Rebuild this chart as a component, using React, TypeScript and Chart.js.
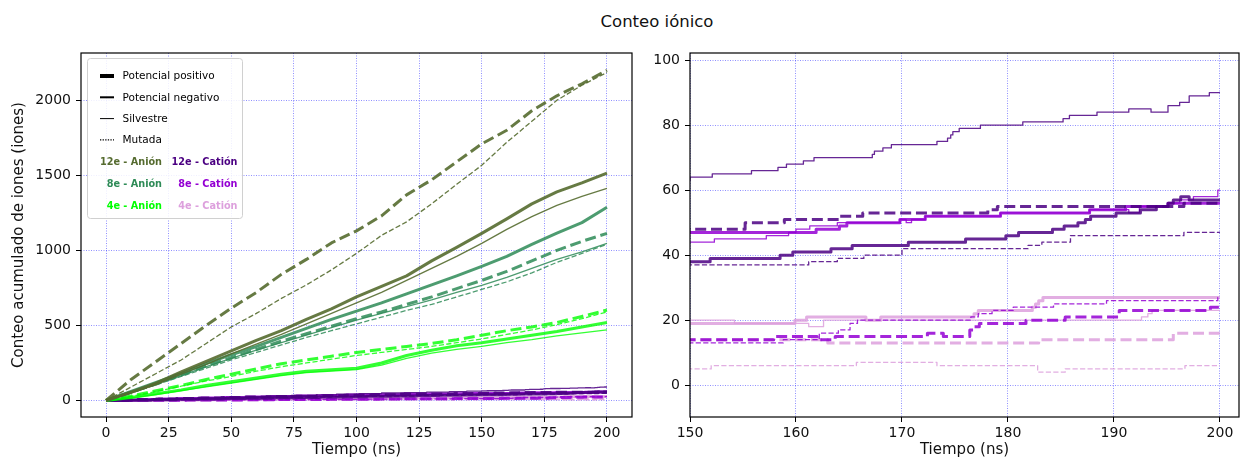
import React, { useEffect, useRef } from 'react';
import { Chart, registerables } from 'chart.js';

Chart.register(...registerables);

const FONT = '"DejaVu Sans", "Liberation Sans", sans-serif';

// ---- Anion cumulative counts, sampled every 10 ns ----
const TIME_ANION = [0, 10, 20, 30, 40, 50, 60, 70, 80, 90, 100, 110, 120, 130, 140, 150, 160, 170, 180, 190, 200];

const A12_POS_WT = [0, 55, 115, 190, 260, 330, 400, 465, 540, 610, 690, 760, 830, 930, 1020, 1113, 1210, 1310, 1390, 1450, 1515];
const A12_POS_MUT = [0, 140, 260, 380, 500, 615, 720, 840, 940, 1050, 1130, 1230, 1370, 1470, 1590, 1710, 1800, 1930, 2030, 2110, 2200];
const A12_NEG_WT = [0, 50, 105, 175, 240, 310, 375, 440, 510, 580, 650, 720, 800, 880, 960, 1047, 1140, 1225, 1300, 1360, 1413];
const A12_NEG_MUT = [0, 90, 180, 270, 380, 490, 580, 680, 770, 870, 980, 1100, 1190, 1310, 1440, 1567, 1720, 1860, 2000, 2100, 2185];

const A8_POS_WT = [0, 60, 120, 180, 245, 305, 360, 420, 480, 540, 595, 650, 710, 770, 830, 893, 960, 1040, 1115, 1185, 1287];
const A8_POS_MUT = [0, 55, 110, 170, 230, 285, 340, 395, 445, 495, 545, 590, 640, 690, 745, 800, 860, 930, 1000, 1060, 1113];
const A8_NEG_WT = [0, 55, 110, 165, 225, 280, 335, 385, 435, 485, 535, 580, 625, 670, 720, 767, 820, 880, 940, 990, 1047];
const A8_NEG_MUT = [0, 50, 105, 160, 215, 270, 320, 370, 420, 465, 510, 555, 600, 640, 690, 740, 790, 850, 920, 980, 1040];

const A4_POS_WT = [0, 20, 45, 70, 100, 125, 150, 175, 195, 205, 215, 250, 300, 335, 365, 385, 410, 435, 460, 490, 520];
const A4_POS_MUT = [0, 30, 65, 100, 140, 175, 210, 245, 270, 295, 320, 340, 360, 380, 405, 435, 465, 490, 520, 560, 603];
const A4_NEG_WT = [0, 18, 40, 65, 90, 115, 140, 165, 185, 195, 205, 235, 280, 315, 340, 360, 385, 405, 430, 450, 470];
const A4_NEG_MUT = [0, 28, 60, 95, 130, 160, 195, 225, 250, 275, 300, 320, 340, 360, 385, 410, 440, 470, 505, 545, 590];

// ---- Cation cumulative counts: [time (ns), count] at each change ----
const C12_NEG_WT: [number, number][] = [[0, 0], [6, 2], [14, 6], [22, 10], [31, 14], [40, 18], [48, 22], [57, 26], [66, 30], [75, 34], [84, 38], [92, 42], [101, 46], [110, 50], [119, 53], [128, 56], [137, 59], [144, 62], [148, 63], [150, 64], [152.1, 65], [155.8, 66], [158.3, 67], [159.1, 68], [160.7, 69], [161.7, 70], [167.2, 71], [167.4, 72], [168.2, 73], [169.0, 74], [173.3, 75], [174.3, 76], [174.6, 77], [174.8, 78], [175.4, 79], [177.4, 80], [181.4, 81], [185.2, 82], [185.8, 83], [188.4, 84], [191.4, 85], [193.5, 84], [195.1, 86], [196.2, 87], [197.1, 89], [199.0, 90], [200, 90]];
const C12_POS_WT: [number, number][] = [[0, 0], [9, 2], [18, 5], [28, 8], [37, 10], [47, 13], [56, 15], [66, 18], [76, 20], [85, 23], [95, 25], [104, 28], [114, 30], [124, 33], [133, 35], [142, 37], [148, 38], [151.9, 39], [158.5, 40], [159.7, 41], [163.3, 42], [165.3, 43], [170.6, 44], [176.0, 45], [179.8, 46], [181.0, 47], [184.2, 48], [185.3, 49], [186.6, 50], [187.3, 51], [187.8, 52], [190.2, 53], [192.5, 54], [194.0, 55], [195.1, 56], [195.6, 57], [196.3, 58], [197.1, 57], [200, 57]];
const C12_POS_MUT: [number, number][] = [[0, 0], [5, 3], [12, 6], [20, 10], [28, 13], [37, 17], [46, 20], [55, 23], [64, 26], [74, 29], [84, 32], [95, 35], [106, 38], [117, 41], [128, 44], [139, 46], [146, 47], [149, 48], [155.2, 50], [158.9, 51], [164.1, 52], [166.3, 53], [178.1, 54], [179.0, 55], [196.6, 56], [200, 56]];
const C12_NEG_MUT: [number, number][] = [[0, 0], [7, 2], [16, 5], [26, 8], [36, 11], [46, 14], [57, 17], [68, 20], [79, 23], [90, 26], [101, 28], [112, 30], [123, 32], [134, 34], [143, 36], [149, 37], [161.2, 38], [163.9, 39], [166.4, 40], [170.0, 42], [181.9, 43], [183.2, 44], [185.9, 46], [196.6, 47], [200, 47]];

const C8_POS_WT: [number, number][] = [[0, 0], [6, 3], [13, 6], [21, 10], [29, 13], [38, 17], [47, 20], [56, 24], [66, 27], [76, 30], [86, 33], [96, 36], [107, 39], [118, 41], [129, 43], [140, 45], [146, 46], [149, 47], [161.9, 48], [164.1, 49], [164.8, 50], [169.8, 51], [172.2, 52], [179.3, 53], [187.7, 54], [191.1, 55], [195.1, 56], [200, 56]];
const C8_NEG_WT: [number, number][] = [[0, 0], [5, 2], [12, 5], [20, 8], [29, 12], [38, 15], [47, 18], [57, 21], [67, 24], [78, 27], [89, 30], [100, 33], [111, 36], [122, 39], [133, 41], [143, 43], [149, 44], [152.3, 45], [157.2, 46], [159.3, 47], [160.0, 48], [161.3, 49], [163.9, 50], [169.8, 51], [170.4, 50], [170.9, 51], [172.2, 52], [179.3, 53], [187.7, 54], [191.4, 53], [192.4, 55], [195.1, 56], [196.2, 57], [197.5, 58], [199.8, 60], [200, 60]];
const C8_POS_MUT: [number, number][] = [[0, 0], [8, 1], [20, 2], [32, 3], [44, 4], [56, 5], [67, 6], [78, 7], [89, 8], [99, 9], [109, 10], [119, 11], [129, 12], [139, 13], [148, 14], [157.9, 15], [162.0, 14], [163.7, 15], [172.4, 16], [173.9, 15], [176.4, 17], [176.8, 18], [177.3, 19], [181.7, 20], [185.4, 21], [190.5, 23], [199.1, 24], [200, 24]];
const C8_NEG_MUT: [number, number][] = [[0, 0], [9, 1], [21, 2], [33, 3], [45, 4], [57, 5], [69, 6], [81, 7], [93, 8], [105, 9], [116, 10], [127, 11], [138, 12], [147, 13], [158.8, 14], [162.2, 16], [164.0, 17], [165.1, 19], [165.8, 20], [176.5, 21], [177.2, 22], [178.5, 23], [180.5, 24], [184.3, 25], [189.3, 26], [199.8, 27], [200, 27]];

const C4_POS_WT: [number, number][] = [[0, 0], [6, 1], [14, 2], [22, 3], [29, 4], [37, 5], [45, 6], [52, 7], [60, 8], [68, 9], [76, 10], [84, 11], [92, 12], [100, 13], [108, 14], [116, 15], [124, 16], [132, 17], [140, 18], [147, 19], [159.9, 20], [161.0, 21], [166.6, 20], [168.0, 21], [176.8, 22], [177.2, 23], [182.3, 24], [182.6, 25], [182.9, 26], [183.3, 27], [200, 27]];
const C4_NEG_WT: [number, number][] = [[0, 0], [5, 1], [12, 2], [19, 3], [26, 4], [33, 5], [40, 6], [47, 7], [55, 8], [62, 9], [70, 10], [77, 11], [85, 12], [92, 13], [100, 14], [108, 15], [116, 16], [124, 17], [132, 18], [140, 19], [146, 20], [154.2, 19], [161.2, 18], [162.6, 20], [192.6, 21], [193.2, 22], [193.6, 23], [200, 23]];
const C4_POS_MUT: [number, number][] = [[0, 0], [10, 1], [21, 2], [32, 3], [43, 4], [54, 5], [64, 6], [75, 7], [86, 8], [96, 9], [107, 10], [118, 11], [128, 12], [139, 13], [148, 14], [163.0, 13], [182.9, 14], [195.6, 16], [200, 16]];
const C4_NEG_MUT: [number, number][] = [[0, 0], [20, 1], [45, 2], [70, 3], [95, 4], [120, 5], [152.0, 6], [165.7, 7], [173.3, 6], [182.8, 4], [185.4, 5], [196.7, 6], [200, 6]];

// ---- Axes ----
const LEFT_X_TICKS = [0, 25, 50, 75, 100, 125, 150, 175, 200];
const LEFT_Y_TICKS = [0, 500, 1000, 1500, 2000];
const RIGHT_X_TICKS = [150, 160, 170, 180, 190, 200];
const RIGHT_Y_TICKS = [0, 20, 40, 60, 80, 100];

// ---- Series colours (r,g,b) ----
const OLIVE = '85,107,47';
const SEAGREEN = '46,139,87';
const LIME = '0,255,0';
const INDIGO = '75,0,130';
const DARKVIOLET = '148,0,211';
const PLUM = '221,160,221';

const LEGEND_STYLES = [
  { label: 'Potencial positivo', width: 4, dash: [] as number[] },
  { label: 'Potencial negativo', width: 2, dash: [] as number[] },
  { label: 'Silvestre', width: 1, dash: [] as number[] },
  { label: 'Mutada', width: 1.2, dash: [1.3, 1.3] },
];
const LEGEND_ANIONS = [
  { label: '12e - Anión', color: OLIVE },
  { label: '8e - Anión', color: SEAGREEN },
  { label: '4e - Anión', color: LIME },
];
const LEGEND_CATIONS = [
  { label: '12e - Catión', color: INDIGO },
  { label: '8e - Catión', color: DARKVIOLET },
  { label: '4e - Catión', color: PLUM },
];

const THICK = 3;
const THIN = 1.3;

function lineDataset(points: { x: number; y: number }[], rgb: string, positive: boolean, mutant: boolean, stepped: boolean, alpha = 0.85) {
  return {
    data: points,
    borderColor: `rgba(${rgb},${alpha})`,
    backgroundColor: `rgba(${rgb},${alpha})`,
    borderWidth: positive ? THICK : THIN,
    borderDash: mutant ? (positive ? [11, 4.8] : [5.2, 2.3]) : [],
    borderJoinStyle: 'round' as const,
    pointRadius: 0,
    fill: false,
    tension: 0,
    // a count holds its value until the next change time
    stepped: stepped ? ('before' as const) : false,
  };
}

const fromSeries = (values: number[]) => values.map((v, i) => ({ x: TIME_ANION[i], y: v }));
const fromSteps = (steps: [number, number][]) => steps.map(([t, v]) => ({ x: t, y: v }));

function anionDatasets() {
  return [
    lineDataset(fromSeries(A12_POS_WT), OLIVE, true, false, false, 0.9),
    lineDataset(fromSeries(A12_POS_MUT), OLIVE, true, true, false, 0.9),
    lineDataset(fromSeries(A12_NEG_WT), OLIVE, false, false, false, 0.9),
    lineDataset(fromSeries(A12_NEG_MUT), OLIVE, false, true, false, 0.9),
    lineDataset(fromSeries(A8_POS_WT), SEAGREEN, true, false, false),
    lineDataset(fromSeries(A8_POS_MUT), SEAGREEN, true, true, false),
    lineDataset(fromSeries(A8_NEG_WT), SEAGREEN, false, false, false),
    lineDataset(fromSeries(A8_NEG_MUT), SEAGREEN, false, true, false),
    lineDataset(fromSeries(A4_POS_WT), LIME, true, false, false, 0.8),
    lineDataset(fromSeries(A4_POS_MUT), LIME, true, true, false, 0.8),
    lineDataset(fromSeries(A4_NEG_WT), LIME, false, false, false, 0.8),
    lineDataset(fromSeries(A4_NEG_MUT), LIME, false, true, false, 0.8),
  ];
}

function cationDatasets() {
  return [
    lineDataset(fromSteps(C12_POS_WT), INDIGO, true, false, true),
    lineDataset(fromSteps(C12_POS_MUT), INDIGO, true, true, true),
    lineDataset(fromSteps(C12_NEG_WT), INDIGO, false, false, true),
    lineDataset(fromSteps(C12_NEG_MUT), INDIGO, false, true, true),
    lineDataset(fromSteps(C8_POS_WT), DARKVIOLET, true, false, true),
    lineDataset(fromSteps(C8_POS_MUT), DARKVIOLET, true, true, true),
    lineDataset(fromSteps(C8_NEG_WT), DARKVIOLET, false, false, true),
    lineDataset(fromSteps(C8_NEG_MUT), DARKVIOLET, false, true, true),
    lineDataset(fromSteps(C4_POS_WT), PLUM, true, false, true),
    lineDataset(fromSteps(C4_POS_MUT), PLUM, true, true, true),
    lineDataset(fromSteps(C4_NEG_WT), PLUM, false, false, true),
    lineDataset(fromSteps(C4_NEG_MUT), PLUM, false, true, true),
  ];
}

// Frame drawn around the plotting area (all four spines)
const framePlugin = {
  id: 'frame',
  afterDraw(chart: any) {
    const { ctx, chartArea: a } = chart;
    ctx.save();
    ctx.strokeStyle = '#000';
    ctx.lineWidth = 1.2;
    ctx.setLineDash([]);
    ctx.strokeRect(a.left, a.top, a.right - a.left, a.bottom - a.top);
    ctx.restore();
  },
};

// Legend box in the upper-left corner of the full-range panel
const legendPlugin = {
  id: 'styleLegend',
  afterDraw(chart: any) {
    const { ctx } = chart;
    ctx.save();
    const bx = 87, by = 58, bw = 155, bh = 160;
    ctx.beginPath();
    (ctx as any).roundRect(bx + 0.5, by + 0.5, bw, bh, 3);
    ctx.fillStyle = 'rgba(255,255,255,0.85)';
    ctx.fill();
    ctx.strokeStyle = '#d0d0d0';
    ctx.lineWidth = 1;
    ctx.stroke();

    ctx.textBaseline = 'middle';
    ctx.font = `10.5px ${FONT}`;
    LEGEND_STYLES.forEach((s, i) => {
      const y = 76 + i * 21.3;
      ctx.beginPath();
      ctx.setLineDash(s.dash);
      ctx.lineWidth = s.width;
      ctx.strokeStyle = '#000';
      ctx.moveTo(100, y);
      ctx.lineTo(114, y);
      ctx.stroke();
      ctx.setLineDash([]);
      ctx.fillStyle = '#000';
      ctx.textAlign = 'left';
      ctx.fillText(s.label, 122.5, y + 0.5);
    });

    ctx.font = `bold 9.7px ${FONT}`;
    ctx.textAlign = 'right';
    LEGEND_ANIONS.forEach((s, i) => {
      ctx.fillStyle = `rgb(${s.color})`;
      ctx.fillText(s.label, 162, 162 + i * 22);
    });
    LEGEND_CATIONS.forEach((s, i) => {
      ctx.fillStyle = `rgb(${s.color})`;
      ctx.fillText(s.label, 237.5, 162 + i * 22);
    });
    ctx.restore();
  },
};

function axisOptions(ticks: number[], min: number, max: number, horizontal: boolean, size: number, title?: string) {
  const opts: any = {
    type: 'linear',
    min,
    max,
    afterBuildTicks: (axis: any) => {
      axis.ticks = ticks.map((v) => ({ value: v }));
    },
    afterFit: (axis: any) => {
      if (horizontal) axis.height = size;
      else axis.width = size;
    },
    grid: {
      color: 'rgba(0,0,255,0.55)',
      lineWidth: 0.8,
      drawTicks: true,
      tickLength: 5,
      tickColor: '#000',
      tickWidth: 1,
      tickBorderDash: [],
    },
    border: { display: false, dash: [1, 1.5] },
    ticks: {
      color: '#111',
      font: { family: FONT, size: 14 },
      padding: horizontal ? 3 : 5,
      maxRotation: 0,
      autoSkip: false,
      callback: (v: any) => String(v),
    },
  };
  if (title) {
    opts.title = {
      display: true,
      text: title,
      color: '#111',
      font: { family: FONT, size: 15 },
      padding: horizontal ? { top: 0, bottom: 3 } : { top: 10, bottom: 0 },
    };
  }
  return opts;
}

function PanelChart(props: { width: number; height: number; config: any }) {
  const ref = useRef<HTMLCanvasElement | null>(null);
  useEffect(() => {
    if (!ref.current) return;
    const chart = new Chart(ref.current, props.config);
    return () => chart.destroy();
  }, []);
  return <canvas ref={ref} width={props.width} height={props.height} style={{ width: props.width, height: props.height, display: 'block' }} />;
}

export default function App() {
  const leftConfig = {
    type: 'line',
    data: { datasets: [...anionDatasets(), ...cationDatasets()] },
    options: {
      animation: false,
      responsive: false,
      maintainAspectRatio: false,
      devicePixelRatio: 1,
      parsing: false,
      normalized: true,
      events: [],
      layout: { padding: { top: 53, right: 8, left: 0, bottom: 0 } },
      plugins: { legend: { display: false }, tooltip: { enabled: false }, title: { display: false } },
      scales: {
        x: axisOptions(LEFT_X_TICKS, -10, 210, true, 45, 'Tiempo (ns)'),
        y: axisOptions(LEFT_Y_TICKS, -110, 2315, false, 81, 'Conteo acumulado de iones (iones)'),
      },
    },
    plugins: [framePlugin, legendPlugin],
  };

  const rightConfig = {
    type: 'line',
    data: { datasets: cationDatasets() },
    options: {
      animation: false,
      responsive: false,
      maintainAspectRatio: false,
      devicePixelRatio: 1,
      parsing: false,
      events: [],
      layout: { padding: { top: 53, right: 2, left: 0, bottom: 0 } },
      plugins: { legend: { display: false }, tooltip: { enabled: false }, title: { display: false } },
      scales: {
        x: axisOptions(RIGHT_X_TICKS, 150, 201.8, true, 45, 'Tiempo (ns)'),
        y: axisOptions(RIGHT_Y_TICKS, -9.8, 102.2, false, 50),
      },
    },
    plugins: [framePlugin],
  };

  return (
    <div style={{ position: 'fixed', left: 0, top: 0, width: 1241, height: 462, background: '#fff', overflow: 'hidden' }}>
      <div
        style={{
          position: 'absolute',
          left: 657,
          top: 12,
          transform: 'translateX(-50%)',
          fontFamily: FONT,
          fontSize: 16.5,
          lineHeight: '20px',
          color: '#111',
          whiteSpace: 'nowrap',
        }}
      >
        Conteo iónico
      </div>
      <div style={{ position: 'absolute', left: 0, top: 0 }}>
        <PanelChart width={640} height={462} config={leftConfig} />
      </div>
      <div style={{ position: 'absolute', left: 640, top: 0 }}>
        <PanelChart width={601} height={462} config={rightConfig} />
      </div>
    </div>
  );
}
